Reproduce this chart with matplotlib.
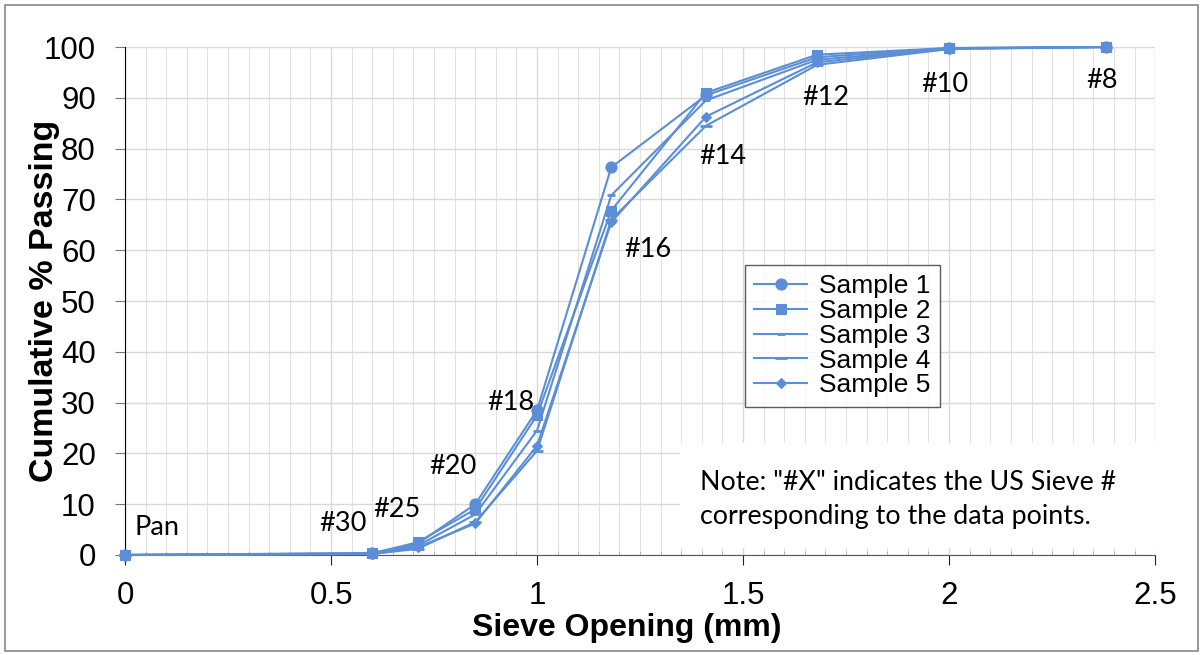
import numpy as np
import matplotlib.pyplot as plt
from matplotlib.patches import Rectangle
from matplotlib.ticker import MultipleLocator, FuncFormatter

# Sieve openings (mm) and labels
sieve_mm = [0, 0.6, 0.71, 0.85, 1.0, 1.18, 1.41, 1.68, 2.0, 2.38]
sieve_labels = ["Pan", "#30", "#25", "#20", "#18", "#16", "#14", "#12", "#10", "#8"]

# Cumulative % passing per sample
sample1 = [0, 0.4, 2.2, 10.0, 28.5, 76.3, 90.5, 98.0, 99.8, 100]
sample2 = [0, 0.3, 2.5, 9.0, 27.5, 67.8, 91.0, 98.5, 99.8, 100]
sample3 = [0, 0.3, 1.8, 8.0, 24.5, 70.8, 89.5, 97.5, 99.7, 100]
sample4 = [0, 0.2, 1.2, 6.5, 20.5, 66.0, 84.5, 96.5, 99.6, 100]
sample5 = [0, 0.2, 1.5, 6.2, 21.5, 65.5, 86.3, 97.0, 99.7, 100]

samples = [sample1, sample2, sample3, sample4, sample5]
names = ["Sample 1", "Sample 2", "Sample 3", "Sample 4", "Sample 5"]
markers = ["o", "s", "_", "_", "D"]
msizes = [8, 7, 6, 8, 5.5]

# label positions (data coords) for sieve numbers
label_x = [0.078, 0.53, 0.66, 0.796, 0.937, 1.27, 1.45, 1.70, 1.99, 2.37]
label_y = [5.5, 6.1, 9.0, 17.5, 30.0, 60.2, 78.5, 90.0, 92.7, 93.5]

color = "#5B8ED6"

fig = plt.figure(figsize=(12.03, 6.55), dpi=100)
ax = fig.add_axes([0.1039, 0.1527, 0.8563, 0.7755])

for s, n, m, ms in zip(samples, names, markers, msizes):
    ax.plot(sieve_mm, s, color=color, lw=1.5, marker=m, markersize=ms,
            markeredgewidth=2 if m == "_" else 0.8, label=n, clip_on=False,
            zorder=5)

for lx, ly, t in zip(label_x, label_y, sieve_labels):
    ax.text(lx, ly, t, ha="center", va="center", fontsize=19.5,
            family="Lato", color="black")

ax.set_xlim(0, 2.5)
ax.set_ylim(0, 100)
ax.xaxis.set_major_locator(MultipleLocator(0.5))
ax.xaxis.set_minor_locator(MultipleLocator(0.05))
ax.yaxis.set_major_locator(MultipleLocator(10))
ax.xaxis.set_major_formatter(FuncFormatter(lambda v, p: "%g" % v))
ax.grid(which="major", color="#D9D9D9", lw=1)
ax.grid(which="minor", axis="x", color="#E3E3E3", lw=0.8)
ax.set_axisbelow(True)
ax.tick_params(axis="x", which="major", labelsize=22.5, length=7,
               color="#222222", pad=12)
ax.tick_params(axis="y", which="major", labelsize=22.5, length=7,
               color="#777777", pad=14)
ax.tick_params(axis="x", which="minor", direction="in", length=3,
               color="#AAAAAA")
for lab in ax.get_xticklabels() + ax.get_yticklabels():
    lab.set_family("Liberation Sans")

for side in ["top", "right"]:
    ax.spines[side].set_visible(False)
ax.spines["left"].set_color("black")
ax.spines["bottom"].set_color("#555555")

ax.set_xlabel("Sieve Opening (mm)", fontsize=23, fontweight="bold",
              family="Liberation Sans", labelpad=1, x=0.487)
ax.set_ylabel("Cumulative % Passing", fontsize=24.5, fontweight="bold",
              family="Liberation Sans", labelpad=-12)

leg = ax.legend(loc="upper left", bbox_to_anchor=(0.602, 0.571),
                borderaxespad=0, frameon=True, fancybox=False,
                edgecolor="#333333", handlelength=2.0, handletextpad=0.45,
                borderpad=0.35, labelspacing=0.03,
                prop={"family": "Liberation Sans", "size": 19})
leg.get_frame().set_linewidth(1.0)

# note box
ax.add_patch(Rectangle((1.347, 1.38), 1.165, 20.6, facecolor="white",
                       edgecolor="none", zorder=3, clip_on=False))
ax.text(1.395, 11.0, 'Note: "#X" indicates the US Sieve #\ncorresponding to the data points.',
        ha="left", va="center", fontsize=19.3, family="Lato",
        linespacing=1.45, zorder=4)

fig.patches.append(Rectangle((0.004, 0.006), 0.992, 0.987, transform=fig.transFigure,
                             fill=False, edgecolor="#888888", lw=1.2))

fig.savefig("out.png", dpi=100)
